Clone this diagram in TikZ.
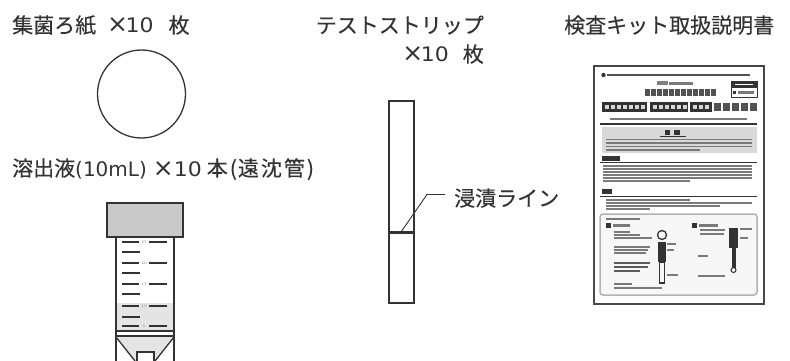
\documentclass[tikz,border=0pt]{standalone}
\usepackage{fontspec}
\newfontfamily\jpfont[FakeBold=0.3]{Noto Sans CJK JP}
\newfontfamily\latfont{DejaVu Sans}
\newfontfamily\digfont[FakeStretch=1.1]{DejaVu Sans}
\definecolor{ink}{HTML}{333333}
\definecolor{capgray}{HTML}{C9C9C9}
\definecolor{liquid}{HTML}{E4E4E4}
\definecolor{leafgray}{HTML}{7A7A7A}
% Latin letters, numerals and the multiplication sign inside the captions
\newcommand\lat[1]{{\latfont\fontsize{20}{24}\selectfont #1}}
\newcommand\num[1]{{\digfont\fontsize{20}{24}\selectfont #1}}
\newcommand\cross{{\latfont\fontsize{25}{25}\selectfont ×}}
% one line of tiny print on the leaflet: from x=#1 to x=#2 at height #3
\newcommand\sheetline[3]{\fill[leafgray] (#1,#3-1.1) rectangle (#2,#3+1.1);}
\tikzset{
  caption/.style={font=\jpfont\fontsize{21}{25}\selectfont, text=ink, inner sep=0pt},
  outline/.style={draw=ink, line width=1.3pt},
  grad/.style={draw=ink, line width=1.6pt},
  gradnum/.style={font=\fontsize{4}{4}\selectfont, text=gray, inner sep=0pt},
  rule/.style={draw=ink, line width=1pt},
}
\begin{document}
\begin{tikzpicture}[x=1pt, y=-1pt]
\useasboundingbox (0,0) rectangle (790,361);
\clip (0,0) rectangle (790,361);

% ---------- captions ----------
\node[caption, anchor=base west] (paperlbl) at (12,33)
  {集菌ろ紙\hspace{11pt}\cross\hspace{-2.5pt}\num{10}\hspace{15pt}枚};
\node[caption, anchor=base west] (tubelbl) at (12,176)
  {溶出液\lat{(10mL)}\hspace{6pt}\cross\num{10}\hspace{5pt}本\hspace{2pt}(\hspace{1pt}遠\hspace{2pt}沈\hspace{2pt}管\hspace{2pt})};
\node[caption, anchor=base east] (striplbl) at (484,33) {テストストリップ};
\node[caption, anchor=base east] (stripcnt) at (484,62)
  {\cross\hspace{-2.5pt}\num{10}\hspace{14pt}枚};
\node[caption, anchor=base west] (sheetlbl) at (564,33) {検査キット取扱説明書};

% ---------- filter paper ----------
\node[circle, outline, minimum size=88pt, inner sep=0pt] (paper) at (141.5,94) {};

% ---------- centrifuge tube ----------
\fill[liquid] (116,303) rectangle (174,331);
\fill[liquid] (116,337) -- (135,361) -- (155,361) -- (174,337) -- cycle;
\draw[outline] (116,237) -- (116,362);
\draw[outline] (174,237) -- (174,362);
\draw[outline, fill=capgray] (107,203) rectangle (183,237);
\draw[outline, fill=white] (116,331) rectangle (174,336);
\draw[outline] (116,337) -- (135,361);
\draw[outline] (174,337) -- (155,361);
\draw[outline, fill=white] (137,362) -- (137,352) -- (154,352) -- (154,362);
\foreach \yy/\vv in {242/25,263/20,284/15,306/10,326/5}{
  \draw[grad] (122,\yy) -- (139,\yy);
  \draw[grad] (149,\yy) -- (167,\yy);
  \node[gradnum] at (144,\yy) {\vv};
}
\foreach \yy in {252,273,294,317}
  \draw[grad] (122,\yy) -- (140,\yy);

% ---------- test strip ----------
\node[draw=ink, line width=1.2pt, minimum width=25pt, minimum height=202pt,
      inner sep=0pt] (strip) at (401.5,202) {};
\draw[ink, line width=3pt] (strip.west |- 0,232) -- (strip.east |- 0,232);
\coordinate (dip) at (401,232);
\coordinate (bend) at (427,194.5);
\coordinate (tick) at (445,194.5);
\node[caption, anchor=base west] (diplbl) at (454,206) {浸漬ライン};
\draw[ink, line width=0.9pt] (dip) -- (bend) -- (tick);

% ---------- instruction leaflet ----------
\node[draw=ink!90, line width=2pt, minimum width=170pt, minimum height=238pt,
      inner sep=0pt, anchor=north west] (sheet) at (593,65) {};
% header
\fill[ink] (603.5,75) circle (2.2);
\fill[ink!85] (607,73.8) rectangle (750,76.4);
\fill[gray] (657,81) rectangle (668,85);
\sheetline{669}{693}{83.5}
\foreach \xx in {645,651,...,711} \fill[ink!85] (\xx,89) rectangle (\xx+4.6,96);
\draw[ink, line width=0.8pt] (731,81) rectangle (757,97);
\fill[ink] (731,81) rectangle (757,88);
\fill[white] (735,83.6) rectangle (753,85.4);
\fill[ink] (733,91) rectangle (736,94);
\sheetline{738}{754}{92.5}
% title bars
\fill[ink] (602,102) rectangle (647,112);
\fill[ink] (650,102) rectangle (688,112);
\fill[ink] (690,102) rectangle (712,112);
\foreach \xx in {605,611,...,641} \fill[white!80!ink] (\xx,105) rectangle (\xx+4,109);
\foreach \xx in {653,659,...,683} \fill[white!80!ink] (\xx,105) rectangle (\xx+4,109);
\foreach \xx in {693,699,705} \fill[white!80!ink] (\xx,105) rectangle (\xx+4,109);
\foreach \xx in {714,723,...,750} \fill[ink!85] (\xx,103) rectangle (\xx+7,111);
\sheetline{610}{747}{119}
\draw[ink, line width=1.4pt] (600,124) -- (757,124);
% caution box
\fill[gray!30] (602,127) rectangle (757,153);
\fill[ink] (665,130) rectangle (670,135);
\fill[ink] (674,130) rectangle (680,135);
\draw[ink, line width=0.6pt] (660,136.5) -- (686,136.5);
\foreach \yy in {139.5,143,146.5} {\fill[ink!65] (606,\yy-0.8) rectangle (752,\yy+0.8);}
\fill[ink!65] (606,149.2) rectangle (700,150.8);
% first section
\fill[ink] (602,156) rectangle (620,161);
\draw[rule] (600,162.5) -- (757,162.5);
\foreach \yy in {166,169,172,175,178} {\sheetline{603}{752}{\yy}}
\sheetline{603}{690}{181}
% second section
\fill[ink] (602,189) rectangle (612,194);
\draw[rule] (600,196) -- (757,196);
\sheetline{606}{690}{200}
\sheetline{606}{752}{203}
\sheetline{606}{720}{206}
\sheetline{606}{650}{209}
% figure box
\draw[gray!60, line width=1.5pt, rounded corners=3pt, fill=gray!6] (600,214) rectangle (757,295);
\sheetline{606}{640}{219}
\fill[ink] (606,223) rectangle (611,228);
\sheetline{613}{630}{225.5}
\sheetline{614}{630}{232}
\sheetline{614}{640}{235}
\sheetline{614}{652}{238}
\sheetline{614}{650}{247}
\sheetline{614}{648}{250}
\sheetline{614}{646}{253}
\fill[ink!80] (614,262) rectangle (650,264);
\fill[ink!80] (614,266) rectangle (648,268);
\fill[ink!80] (614,270) rectangle (640,272);
\sheetline{614}{632}{284}
\sheetline{614}{662}{288}
% left figure
\draw[ink, line width=1.3pt] (662,235) circle (4.5);
\fill[ink] (658,242) rectangle (666,262);
\draw[ink, line width=1.2pt] (659.5,262) rectangle (664.5,283);
\sheetline{667}{676}{244}
\sheetline{667}{674}{250}
\sheetline{667}{678}{275}
% right figure
\fill[ink] (692,223) rectangle (697,228);
\sheetline{699}{718}{225.5}
\sheetline{700}{725}{230}
\sheetline{700}{724}{234}
\sheetline{698}{708}{256}
\sheetline{698}{725}{276}
\fill[ink] (729,228) rectangle (738,248);
\fill[ink] (731.5,248) rectangle (735.5,268);
\draw[ink, line width=1pt] (733.5,270) circle (2.5);
\sheetline{740}{752}{229}
\sheetline{740}{748}{238}
\end{tikzpicture}
\end{document}
